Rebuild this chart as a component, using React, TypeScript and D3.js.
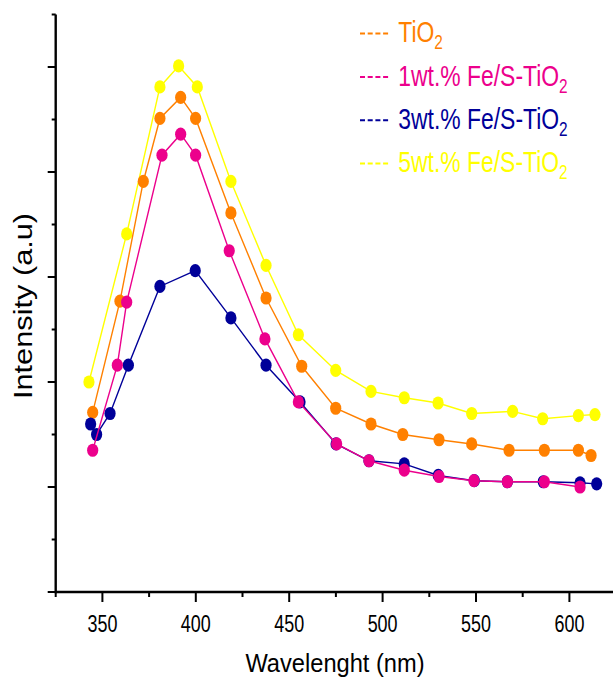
import React from "react";
import * as d3 from "d3";

// ---- data ----
const tio2X = [344.8, 359.4, 371.9, 380.8, 391.9, 399.9, 418.8, 437.6, 456.7, 474.9, 493.8, 510.8, 530.2, 547.7, 567.7, 586.6, 604.8, 611.6];
const tio2Y = [1.71, 2.77, 3.91, 4.51, 4.71, 4.51, 3.61, 2.80, 2.15, 1.75, 1.60, 1.50, 1.45, 1.41, 1.35, 1.35, 1.35, 1.30];

const fe1X = [344.8, 358.0, 363.0, 381.9, 391.9, 399.9, 417.9, 437.0, 454.9, 475.4, 492.7, 511.6, 530.2, 548.9, 566.8, 586.6, 605.7];
const fe1Y = [1.35, 2.16, 2.76, 4.16, 4.36, 4.16, 3.25, 2.41, 1.81, 1.41, 1.25, 1.16, 1.10, 1.06, 1.05, 1.05, 1.00];

const fe3X = [343.7, 346.9, 354.1, 363.9, 380.8, 399.7, 418.8, 437.6, 455.8, 475.1, 492.7, 511.6, 529.8, 549.1, 566.8, 586.0, 605.7, 614.6];
const fe3Y = [1.60, 1.50, 1.70, 2.16, 2.91, 3.06, 2.61, 2.16, 1.81, 1.41, 1.25, 1.22, 1.11, 1.06, 1.05, 1.05, 1.04, 1.03];

const fe5X = [342.8, 363.0, 380.8, 390.8, 400.8, 418.8, 437.6, 454.9, 474.9, 493.8, 511.6, 529.7, 547.7, 569.6, 585.7, 604.8, 613.7];
const fe5Y = [2.00, 3.41, 4.81, 5.01, 4.81, 3.91, 3.11, 2.45, 2.11, 1.91, 1.85, 1.80, 1.70, 1.72, 1.65, 1.68, 1.69];

const xMajorTicks = [350, 400, 450, 500, 550, 600];
const xMinorTicks = [325, 375, 425, 475, 525, 575, 625];
const yMajorTicks = [0, 1, 2, 3, 4, 5];
const yMinorTicks = [0.5, 1.5, 2.5, 3.5, 4.5, 5.5];

const legendNames = ["TiO", "1wt.% Fe/S-TiO", "3wt.% Fe/S-TiO", "5wt.% Fe/S-TiO"];
const legendColors = ["#FF8000", "#EC008C", "#000099", "#FFFF00"];

const xTitle = "Wavelenght (nm)";
const yTitle = "Intensity (a.u)";

const FONT = "'Liberation Sans', Arial, sans-serif";

export default function App() {
  const x = d3.scaleLinear().domain([325, 625]).range([55.7, 616.1]);
  const y = d3.scaleLinear().domain([0, 5.5]).range([592, 14.5]);

  const line = d3
    .line<[number, number]>()
    .x((d) => x(d[0]))
    .y((d) => y(d[1]));

  // draw order: yellow, orange, blue, pink (pink on top)
  const series = [
    { xs: fe5X, ys: fe5Y, color: legendColors[3] },
    { xs: tio2X, ys: tio2Y, color: legendColors[0] },
    { xs: fe3X, ys: fe3Y, color: legendColors[2] },
    { xs: fe1X, ys: fe1Y, color: legendColors[1] },
  ];

  const x0 = x.range()[0];
  const y0 = y(0);

  return (
    <svg
      width={613}
      height={683}
      style={{ position: "absolute", left: 0, top: 0, background: "#fff" }}
      fontFamily={FONT}
    >
      <rect x={0} y={0} width={613} height={683} fill="#fff" />

      {/* series */}
      {series.map((s, i) => {
        const pts: [number, number][] = s.xs.map((v, j) => [v, s.ys[j]]);
        return (
          <g key={i}>
            <path d={line(pts) || ""} fill="none" stroke={s.color} strokeWidth={1.4} />
            {pts.map((p, j) => (
              <ellipse key={j} cx={x(p[0])} cy={y(p[1])} rx={5.6} ry={6.6} fill={s.color} />
            ))}
          </g>
        );
      })}

      {/* axes */}
      <line x1={x0} x2={613} y1={y0} y2={y0} stroke="#000" strokeWidth={2.4} />
      <line x1={x0} x2={x0} y1={y0 + 1.2} y2={y(5.5)} stroke="#000" strokeWidth={2.4} />
      {xMajorTicks.map((t) => (
        <line key={"xM" + t} x1={x(t)} x2={x(t)} y1={y0} y2={y0 + 10} stroke="#000" strokeWidth={2} />
      ))}
      {xMinorTicks.map((t) => (
        <line key={"xm" + t} x1={x(t)} x2={x(t)} y1={y0} y2={y0 + 5} stroke="#000" strokeWidth={2} />
      ))}
      {yMajorTicks.map((t) => (
        <line key={"yM" + t} x1={x0 - 8} x2={x0} y1={y(t)} y2={y(t)} stroke="#000" strokeWidth={2} />
      ))}
      {yMinorTicks.map((t) => (
        <line key={"ym" + t} x1={x0 - 4} x2={x0} y1={y(t)} y2={y(t)} stroke="#000" strokeWidth={2} />
      ))}

      {/* tick labels */}
      {xMajorTicks.map((t) => (
        <text
          key={"xl" + t}
          transform={`translate(${x(t)},631.7) scale(0.78,1)`}
          textAnchor="middle"
          fontSize={23}
          fill="#000"
        >
          {t}
        </text>
      ))}

      {/* axis titles */}
      <text transform={`translate(335,671.7) scale(0.9,1)`} textAnchor="middle" fontSize={26.3} fill="#000">
        {xTitle}
      </text>
      <text
        transform={`translate(31.7,306) rotate(-90) scale(1.16,1)`}
        textAnchor="middle"
        fontSize={26.5}
        fill="#000"
      >
        {yTitle}
      </text>

      {/* legend */}
      {legendNames.map((name, i) => {
        const base = 42.3 + i * 43.3;
        return (
          <g key={"lg" + i}>
            <line
              x1={360}
              x2={390}
              y1={base - 8.7}
              y2={base - 8.7}
              stroke={legendColors[i]}
              strokeWidth={2}
              strokeDasharray="5,2.7"
            />
            <text transform={`translate(398.3,${base}) scale(0.79,1)`} fontSize={29} fill={legendColors[i]}>
              {name}
              <tspan fontSize={19.5} dy={7}>2</tspan>
            </text>
          </g>
        );
      })}
    </svg>
  );
}
